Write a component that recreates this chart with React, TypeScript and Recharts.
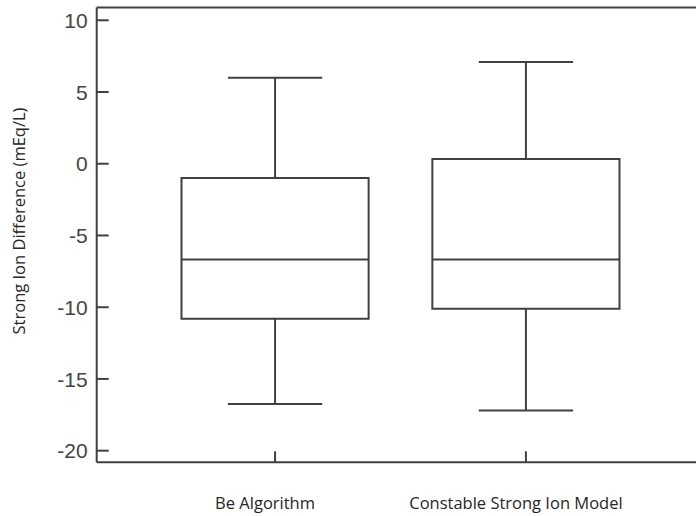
import React from "react";
import { ComposedChart, XAxis, YAxis, Scatter, ReferenceArea, ReferenceLine } from "recharts";

const categories = ["Be Algorithm", "Constable Strong Ion Model"];
const mins = [-16.75, -17.2];
const q1s = [-10.8, -10.1];
const medians = [-6.68, -6.68];
const q3s = [-1.0, 0.33];
const maxs = [6.0, 7.1];
const yTicks = [10, 5, 0, -5, -10, -15, -20];

const Y_DOMAIN: [number, number] = [-20.81, 10.89];
const X_DOMAIN: [number, number] = [0.289, 2.678];
const BOX_HALF = 0.373;
const CAP_HALF = 0.188;
const INK = "#404040";

const data = categories.map((c, i) => ({
  x: i + 1,
  name: c,
  min: mins[i],
  q1: q1s[i],
  median: medians[i],
  q3: q3s[i],
  max: maxs[i],
}));

const XTick = (props: any) => {
  const { x, y, payload } = props;
  const label = categories[payload.value - 1] ?? "";
  return (
    <g>
      <line x1={x} y1={y} x2={x} y2={y - 11} stroke={INK} strokeWidth={2} />
      <text
        x={x - 10}
        y={y + 47}
        textAnchor="middle"
        fontFamily="Open Sans"
        fontSize={16.5}
        fill="#262626"
      >
        {label}
      </text>
    </g>
  );
};

const YTick = (props: any) => {
  const { x, y, payload } = props;
  return (
    <g>
      <line x1={x} y1={y} x2={x + 12} y2={y} stroke={INK} strokeWidth={2} />
      <text
        x={x - 9}
        y={y}
        dy="0.36em"
        textAnchor="end"
        fontFamily="Liberation Sans"
        fontSize={21}
        fill="#444"
      >
        {payload.value}
      </text>
    </g>
  );
};

const YTitle = () => (
  <text
    x={18}
    y={221}
    transform="rotate(-90 18 221)"
    textAnchor="middle"
    dominantBaseline="central"
    fontFamily="Open Sans"
    fontSize={16.5}
    fill="#262626"
  >
    Strong Ion Difference (mEq/L)
  </text>
);

export default function App() {
  return (
    <div style={{ position: "absolute", left: 0, top: 0, background: "#fff" }}>
      <ComposedChart
        width={696}
        height={516}
        data={data}
        margin={{ top: 7.5, right: 0, bottom: 0, left: 0 }}
      >
        <XAxis
          dataKey="x"
          type="number"
          domain={X_DOMAIN}
          ticks={[1, 2]}
          allowDataOverflow
          height={53.7}
          tickSize={0}
          tickMargin={0}
          tickLine={false}
          axisLine={{ stroke: INK, strokeWidth: 2 }}
          tick={<XTick />}
          interval={0}
        />
        <YAxis
          type="number"
          domain={Y_DOMAIN}
          ticks={yTicks}
          allowDataOverflow
          width={96.7}
          tickSize={0}
          tickMargin={0}
          tickLine={false}
          axisLine={{ stroke: INK, strokeWidth: 2 }}
          tick={<YTick />}
          interval={0}
          label={{ content: () => <YTitle /> }}
        />
        <ReferenceLine y={Y_DOMAIN[1]} stroke={INK} strokeWidth={2} ifOverflow="visible" />
        {data.map((d) => (
          <ReferenceArea
            key={"box" + d.x}
            x1={d.x - BOX_HALF}
            x2={d.x + BOX_HALF}
            y1={d.q1}
            y2={d.q3}
            fill="none"
            fillOpacity={0}
            stroke={INK}
            strokeWidth={2}
            strokeOpacity={1}
          />
        ))}
        {data.map((d) => (
          <ReferenceLine
            key={"med" + d.x}
            segment={[{ x: d.x - BOX_HALF, y: d.median }, { x: d.x + BOX_HALF, y: d.median }]}
            stroke={INK}
            strokeWidth={2}
          />
        ))}
        {data.map((d) => (
          <ReferenceLine
            key={"wu" + d.x}
            segment={[{ x: d.x, y: d.q3 }, { x: d.x, y: d.max }]}
            stroke={INK}
            strokeWidth={2}
          />
        ))}
        {data.map((d) => (
          <ReferenceLine
            key={"wl" + d.x}
            segment={[{ x: d.x, y: d.min }, { x: d.x, y: d.q1 }]}
            stroke={INK}
            strokeWidth={2}
          />
        ))}
        {data.map((d) => (
          <ReferenceLine
            key={"cu" + d.x}
            segment={[{ x: d.x - CAP_HALF, y: d.max }, { x: d.x + CAP_HALF, y: d.max }]}
            stroke={INK}
            strokeWidth={2}
          />
        ))}
        {data.map((d) => (
          <ReferenceLine
            key={"cl" + d.x}
            segment={[{ x: d.x - CAP_HALF, y: d.min }, { x: d.x + CAP_HALF, y: d.min }]}
            stroke={INK}
            strokeWidth={2}
          />
        ))}
        <Scatter dataKey="median" fill="none" isAnimationActive={false} shape={() => <g />} />
      </ComposedChart>
    </div>
  );
}
